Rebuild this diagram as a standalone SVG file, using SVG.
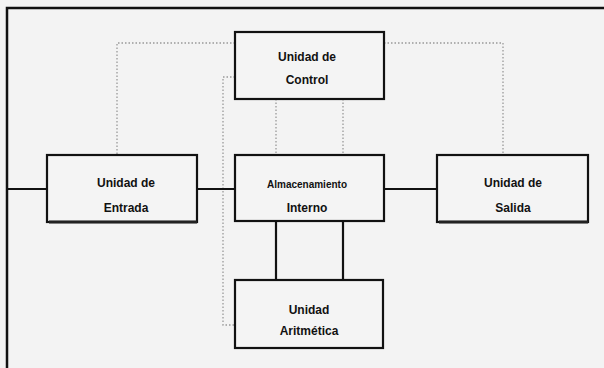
<svg xmlns="http://www.w3.org/2000/svg" width="604" height="368" viewBox="0 0 604 368">
<style>
.box{fill:#f4f4f4;stroke:#111;stroke-width:2.2}
.t{font-family:"Liberation Sans",Arial,sans-serif;font-weight:bold;font-size:12px;fill:#111;text-anchor:middle}
.s{font-size:10px}
.solid{fill:none;stroke:#111;stroke-width:2.2}
.dot{fill:none;stroke:#999;stroke-width:1.3;stroke-dasharray:1.5 2}
.frame{fill:none;stroke:#111;stroke-width:2.5}
</style>
<rect x="0" y="0" width="604" height="368" fill="#f3f3f3"/>
<path class="frame" d="M7,368 V8 H604"/>
<g id="connectors">
<path class="dot" d="M235,43 H117 V155"/>
<path class="dot" d="M384,43 H503 V155"/>
<path class="dot" d="M235,77 H223 V325 H235"/>
<path class="dot" d="M276,99 V155"/>
<path class="dot" d="M343,99 V155"/>
<path class="solid" d="M7,189 H47"/>
<path class="solid" d="M197,189 H235"/>
<path class="solid" d="M384,189 H437"/>
<path class="solid" d="M276,222 V280"/>
<path class="solid" d="M343,222 V280"/>
</g>
<g id="control">
<rect class="box" x="235" y="32" width="149" height="67"/>
<text class="t" x="307" y="61">Unidad de</text>
<text class="t" x="307" y="84">Control</text>
</g>
<g id="entrada">
<rect class="box" x="47" y="155" width="150" height="67"/>
<path d="M49,222 H197" stroke="#222" stroke-width="3"/>
<text class="t" x="126" y="187">Unidad de</text>
<text class="t" x="126" y="212">Entrada</text>
</g>
<g id="almacenamiento">
<rect class="box" x="235" y="155" width="149" height="66"/>
<text class="t s" x="307" y="188">Almacenamiento</text>
<text class="t" x="307" y="212">Interno</text>
</g>
<g id="salida">
<rect class="box" x="437" y="155" width="151" height="67"/>
<path d="M439,222 H588" stroke="#222" stroke-width="3"/>
<text class="t" x="513" y="187">Unidad de</text>
<text class="t" x="513" y="212">Salida</text>
</g>
<g id="aritmetica">
<rect class="box" x="235" y="280" width="148" height="68"/>
<text class="t" x="309" y="314">Unidad</text>
<text class="t" x="309" y="335">Aritmética</text>
</g>
</svg>
